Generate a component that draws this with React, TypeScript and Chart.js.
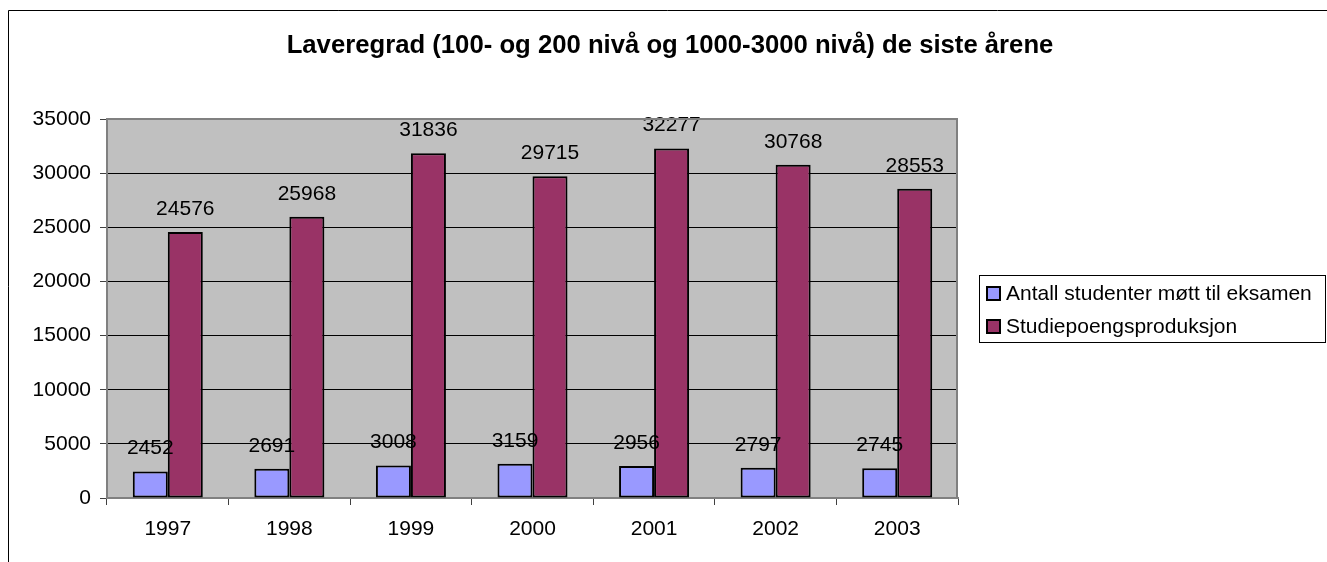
import React, { useEffect, useRef } from 'react';
import { Chart, registerables } from 'chart.js';

Chart.register(...registerables);

const chartTitle = 'Laveregrad (100- og 200 nivå og 1000-3000 nivå) de siste årene';
const years = ['1997', '1998', '1999', '2000', '2001', '2002', '2003'];
const studentsMet = [2452, 2691, 3008, 3159, 2956, 2797, 2745];
const creditProduction = [24576, 25968, 31836, 29715, 32277, 30768, 28553];
const seriesNames = ['Antall studenter møtt til eksamen', 'Studiepoengsproduksjon'];
const seriesColors = ['#9999FF', '#993366'];
const yTicks = [0, 5000, 10000, 15000, 20000, 25000, 30000, 35000];

const FONT = '"Liberation Sans", Arial, sans-serif';

const framePlugin = {
  id: 'frame',
  beforeDraw(chart: any) {
    const { ctx, chartArea, width, height } = chart;
    ctx.save();
    ctx.fillStyle = '#ffffff';
    ctx.fillRect(0, 0, width, height);
    // outer chart border
    ctx.strokeStyle = '#000000';
    ctx.lineWidth = 1;
    ctx.beginPath();
    ctx.moveTo(8.5, height);
    ctx.lineTo(8.5, 10.5);
    ctx.lineTo(width, 10.5);
    ctx.stroke();
    // plot area
    ctx.fillStyle = '#C0C0C0';
    ctx.fillRect(chartArea.left, chartArea.top, chartArea.right - chartArea.left, chartArea.bottom - chartArea.top);
    // title
    ctx.fillStyle = '#000000';
    ctx.font = `bold 25.7px ${FONT}`;
    ctx.textAlign = 'center';
    ctx.textBaseline = 'alphabetic';
    ctx.fillText(chartTitle, 670, 53);
    ctx.restore();
  },
  afterDraw(chart: any) {
    const { ctx, chartArea } = chart;
    ctx.save();
    ctx.strokeStyle = '#808080';
    ctx.lineWidth = 2;
    ctx.beginPath();
    ctx.moveTo(chartArea.left, chartArea.top);
    ctx.lineTo(chartArea.right - 1, chartArea.top);
    ctx.lineTo(chartArea.right - 1, chartArea.bottom);
    ctx.stroke();

    // legend
    const bx = 979.5, by = 275.5, bw = 346, bh = 67;
    ctx.fillStyle = '#ffffff';
    ctx.fillRect(bx, by, bw, bh);
    ctx.strokeStyle = '#000000';
    ctx.lineWidth = 1;
    ctx.strokeRect(bx, by, bw, bh);
    ctx.font = `21px ${FONT}`;
    ctx.textAlign = 'left';
    ctx.textBaseline = 'alphabetic';
    chart.data.datasets.forEach((ds: any, i: number) => {
      const base = 300 + i * 33;
      ctx.fillStyle = ds.backgroundColor;
      ctx.fillRect(987, base - 13, 13, 13);
      ctx.strokeStyle = '#000000';
      ctx.lineWidth = 2;
      ctx.strokeRect(987, base - 13, 13, 13);
      ctx.fillStyle = '#000000';
      ctx.fillText(ds.label, 1006, base);
    });
    ctx.restore();
  },
};

const dataLabelPlugin = {
  id: 'dataLabels',
  afterDatasetsDraw(chart: any) {
    const ctx = chart.ctx;
    ctx.save();
    ctx.font = `21px ${FONT}`;
    ctx.fillStyle = '#000000';
    ctx.textAlign = 'center';
    ctx.textBaseline = 'alphabetic';
    chart.data.datasets.forEach((ds: any, i: number) => {
      chart.getDatasetMeta(i).data.forEach((el: any, j: number) => {
        ctx.fillText(String(ds.data[j]), el.x, el.y - 17);
      });
    });
    ctx.restore();
  },
};

export default function App() {
  const ref = useRef<HTMLCanvasElement | null>(null);

  useEffect(() => {
    if (!ref.current) return;
    const chart = new Chart(ref.current, {
      type: 'bar',
      data: {
        labels: years,
        datasets: [
          {
            label: seriesNames[0],
            data: studentsMet,
            backgroundColor: seriesColors[0],
            borderColor: '#000000',
            borderWidth: 2,
            borderSkipped: false,
            categoryPercentage: 0.576,
            barPercentage: 1,
          },
          {
            label: seriesNames[1],
            data: creditProduction,
            backgroundColor: seriesColors[1],
            borderColor: '#000000',
            borderWidth: 2,
            borderSkipped: false,
            categoryPercentage: 0.576,
            barPercentage: 1,
          },
        ],
      },
      options: {
        responsive: false,
        maintainAspectRatio: false,
        animation: false,
        devicePixelRatio: 1,
        layout: { padding: { top: 119, right: 369, left: 0, bottom: 0 } },
        plugins: {
          legend: { display: false },
          title: { display: false },
          tooltip: { enabled: false },
        },
        scales: {
          x: {
            grid: {
              drawOnChartArea: false,
              drawTicks: true,
              tickLength: 7,
              color: '#404040',
              lineWidth: 1,
              offset: true,
            },
            border: { color: '#808080', width: 2 },
            ticks: {
              color: '#000000',
              font: { family: FONT, size: 21 },
              padding: 12,
              maxRotation: 0,
            },
            afterFit: (s: any) => {
              s.height = 64;
            },
          },
          y: {
            min: 0,
            max: 35000,
            afterBuildTicks: (s: any) => {
              s.ticks = yTicks.map((v) => ({ value: v }));
            },
            ticks: {
              color: '#000000',
              font: { family: FONT, size: 21 },
              padding: 9,
              callback: (v: any) => String(v),
            },
            grid: {
              color: '#000000',
              lineWidth: 1,
              tickLength: 7,
              tickColor: '#404040',
            },
            border: { color: '#808080', width: 2 },
            afterFit: (s: any) => {
              s.width = 107;
            },
          },
        },
      },
      plugins: [framePlugin, dataLabelPlugin],
    });
    return () => chart.destroy();
  }, []);

  return (
    <div style={{ position: 'fixed', left: 0, top: 0, width: 1327, height: 562 }}>
      <canvas ref={ref} width={1327} height={562} style={{ display: 'block' }} />
    </div>
  );
}
